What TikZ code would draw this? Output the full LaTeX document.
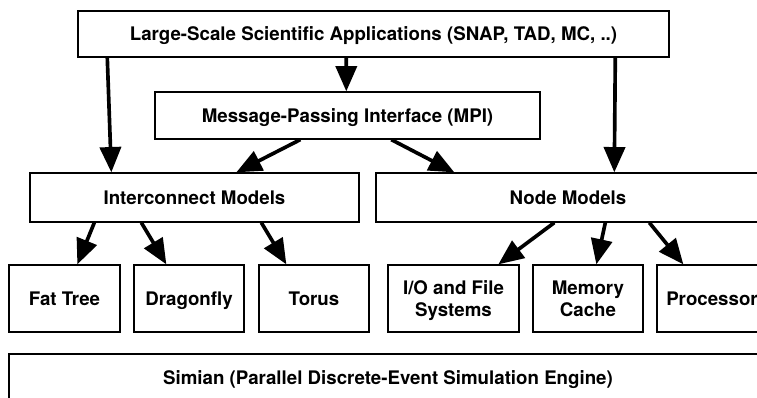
\documentclass[tikz,border=0pt]{standalone}
\usepackage{fontspec}
\setmainfont{TeX Gyre Heros}
\usetikzlibrary{arrows.meta,calc}

\begin{document}
\begin{tikzpicture}[x=0.025cm, y=-0.025cm]
\tikzset{ >={Triangle[width=15pt, length=18pt]},
  box/.style={draw, line width=0.9pt, rectangle, align=center, inner sep=0pt,
    text depth=0pt, font=\fontsize{13.3}{16}\selectfont\bfseries},
  link/.style={->, line width=2.6pt},
}

\useasboundingbox (0,0) rectangle (757,398);
\clip (0,0) rectangle (757,398);

% top layers
\node [box, minimum width=14.775cm, minimum height=1.15cm] (App) at (373.5,34) {Large-Scale Scientific Applications (SNAP, TAD, MC, ..)};
\node [box, minimum width=9.625cm, minimum height=1.175cm] (MPI) at (347.5,115.5) {Message-Passing Interface (MPI)};

% models
\node [box, minimum width=8.225cm, minimum height=1.225cm] (Net)  at (194.5,197.5) {Interconnect Models};
\node [box, minimum width=9.6cm,   minimum height=1.225cm] (Node) at (568,197.5) {Node Models};

% components
\node [box, minimum width=2.775cm, minimum height=1.675cm] (FT)   at (64.5,298.5)  {Fat Tree};
\node [box, minimum width=2.75cm,  minimum height=1.675cm] (DF)   at (189,298.5)   {Dragonfly};
\node [box, minimum width=2.75cm,  minimum height=1.675cm] (TR)   at (314,298.5)   {Torus};
\node [box, minimum width=3.275cm, minimum height=1.675cm] (IO)   at (453.5,298.5) {I/O and File\\Systems};
\node [box, minimum width=2.75cm,  minimum height=1.675cm] (MC)   at (588,298.5)   {Memory\\Cache};
\node [box, minimum width=2.75cm,  minimum height=1.675cm] (PR)   at (712,298.5)   {Processor};

% engine
\node [box, minimum width=18.95cm, minimum height=1.2cm] (Sim) at (388,378) {Simian (Parallel Discrete-Event Simulation Engine)};

\draw [link] ($(App.south west)+(30,0)$)  -- ($(Net.north west)+(82,0)$);
\draw [link] ($(App.south west)+(269,0)$) -- ($(MPI.north west)+(192,0)$);
\draw [link] ($(App.south west)+(538,0)$) -- ($(Node.north west)+(239,0)$);

\draw [link] ($(MPI.south west)+(146,0)$) -- ($(Net.north west)+(207,0)$);
\draw [link] ($(MPI.south west)+(237,0)$) -- ($(Node.north west)+(79,0)$);

\draw [link] ($(Net.south west)+(65,0)$)  -- ($(FT.north west)+(69,0)$);
\draw [link] ($(Net.south west)+(112,0)$) -- ($(DF.north west)+(33,0)$);
\draw [link] ($(Net.south west)+(232,0)$) -- ($(TR.north west)+(28,0)$);

\draw [link] ($(Node.south west)+(179,0)$) -- ($(IO.north west)+(111,0)$);
\draw [link] ($(Node.south west)+(230,0)$) -- ($(MC.north west)+(64,0)$);
\draw [link] ($(Node.south west)+(274,0)$) -- ($(PR.north west)+(27,0)$);
\end{tikzpicture}
\end{document}
